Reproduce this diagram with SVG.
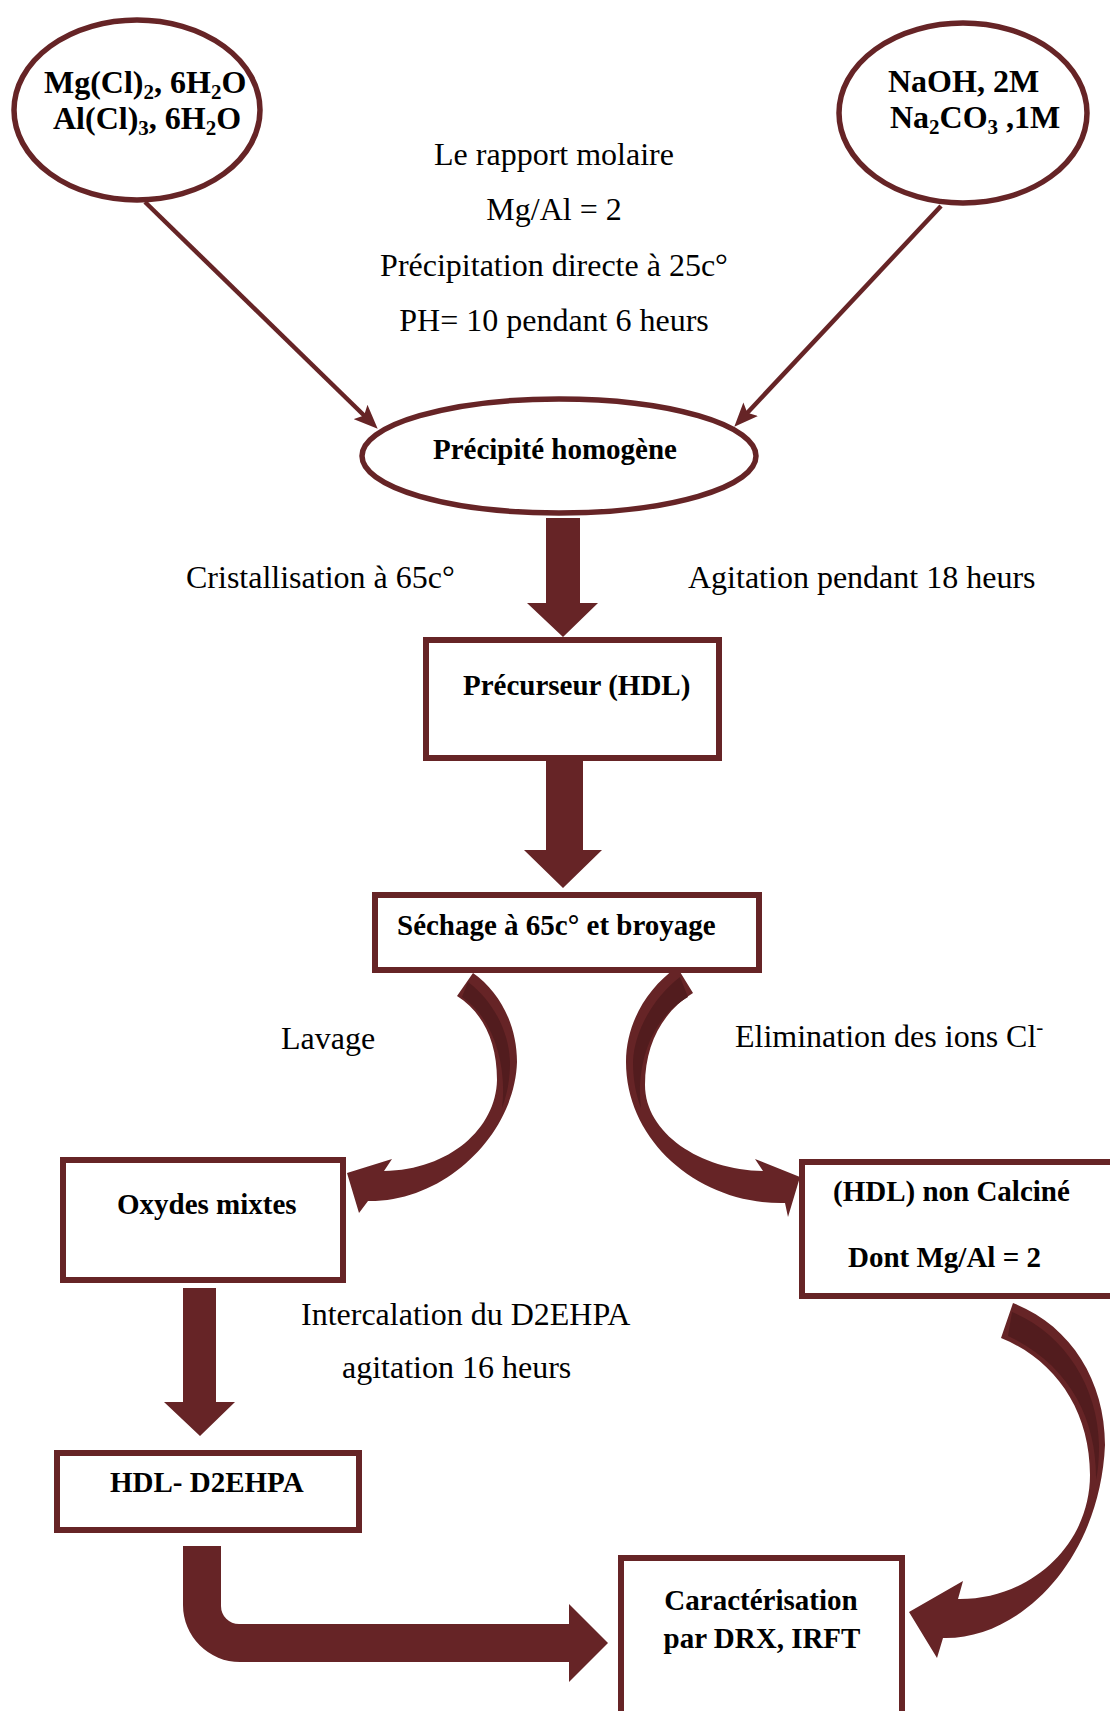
<svg xmlns="http://www.w3.org/2000/svg" width="1110" height="1711" viewBox="0 0 1110 1711">
<defs>
<style>
.box{fill:#fff;stroke:#662426;stroke-width:6}
.ell{fill:#fff;stroke:#662426;stroke-width:5.5}
.lbl{font-family:"Liberation Serif","Times New Roman",serif;font-weight:bold;font-size:29px;fill:#000}
.big{font-family:"Liberation Serif","Times New Roman",serif;font-weight:bold;font-size:32px;fill:#000}
.txt{font-family:"Liberation Serif","Times New Roman",serif;font-size:32px;fill:#000}
.sub{font-size:21px}
.arr{fill:#662426}
.dark{fill:#521c1e}
.thin{stroke:#662426;stroke-width:4.5;fill:none;marker-end:url(#head)}
</style>
<marker id="head" markerUnits="userSpaceOnUse" viewBox="0 0 24 20" refX="13" refY="10" markerWidth="24" markerHeight="20" orient="auto">
<path d="M0,0 L24,10 L0,20 L5,10 Z" fill="#662426"/>
</marker>
</defs>
<rect width="1110" height="1711" fill="#fff"/>

<g id="connectors">
<line class="thin" x1="145" y1="202" x2="369.8" y2="421"/>
<line class="thin" x1="941" y1="206" x2="741.8" y2="418.7"/>
<polygon class="arr" points="546,518 580,518 580,603 598,603 563,637 527,603 546,603"/>
<polygon class="arr" points="546,761 583,761 583,850 602,850 563,888 524,850 546,850"/>
<polygon class="arr" points="183,1288 216,1288 216,1402 235,1402 200,1436 164,1402 183,1402"/>
<path class="arr" d="M183 1546 L221 1546 L221 1606 A18 18 0 0 0 239 1624 L569 1624 L569 1604 L608 1643 L569 1682 L569 1662 L240 1662 A57 57 0 0 1 183 1605 Z"/>
<path class="arr" d="M473 973 C500 992 517 1025 517 1062 C515 1132 447 1202 368 1201 L359 1213 L347 1173 L392 1159 L384 1171 C450 1170 496 1128 497 1080 C497 1040 482 1012 457 996 Z"/>
<path class="dark" d="M468 982 C492 1000 509 1030 510 1062 C510 1080 507 1095 502 1108 C507 1070 496 1020 462 997 Z"/>
<path class="arr" d="M677 967 C645 990 626 1025 626 1062 C626 1142 700 1205 785 1203 L788 1217 L800 1177 L755 1159 L763 1171 C700 1170 645 1133 645 1085 C645 1045 662 1012 693 993 Z"/>
<path class="dark" d="M680 977 C655 996 634 1030 633 1062 C633 1080 636 1095 641 1108 C636 1070 648 1020 688 997 Z"/>
<path class="arr" d="M1013 1303 C1070 1325 1105 1380 1105 1445 C1100 1560 1020 1640 943 1638 L937 1658 L909 1612 L963 1581 L958 1599 C1030 1600 1090 1545 1090 1475 C1090 1410 1055 1360 1001 1338 Z"/>
<path class="dark" d="M1012 1312 C1063 1333 1098 1385 1099 1445 C1099 1460 1098 1470 1096 1480 C1097 1420 1070 1365 1008 1336 Z"/>
</g>

<g id="node-mgcl">
<ellipse class="ell" cx="137" cy="110" rx="123" ry="90"/>
<text class="big" x="44" y="93">Mg(Cl)<tspan class="sub" dy="6">2</tspan><tspan dy="-6">, 6H</tspan><tspan class="sub" dy="6">2</tspan><tspan dy="-6">O</tspan></text>
<text class="big" x="53" y="129">Al(Cl)<tspan class="sub" dy="6">3</tspan><tspan dy="-6">, 6H</tspan><tspan class="sub" dy="6">2</tspan><tspan dy="-6">O</tspan></text>
</g>

<g id="node-naoh">
<ellipse class="ell" cx="963" cy="113" rx="124" ry="90"/>
<text class="big" x="888" y="92">NaOH, 2M</text>
<text class="big" x="890" y="128">Na<tspan class="sub" dy="6">2</tspan><tspan dy="-6">CO</tspan><tspan class="sub" dy="6">3</tspan><tspan dy="-6"> ,1M</tspan></text>
</g>

<g id="conditions">
<text class="txt" x="554" y="165" text-anchor="middle">Le rapport molaire</text>
<text class="txt" x="554" y="220" text-anchor="middle">Mg/Al = 2</text>
<text class="txt" x="554" y="276" text-anchor="middle">Précipitation directe à 25c°</text>
<text class="txt" x="554" y="331" text-anchor="middle">PH= 10 pendant 6 heurs</text>
</g>

<g id="node-precipite">
<ellipse class="ell" cx="559" cy="456" rx="197" ry="57"/>
<text class="lbl" x="555" y="459" text-anchor="middle">Précipité homogène</text>
</g>

<text class="txt" x="186" y="588">Cristallisation à 65c°</text>
<text class="txt" x="688" y="588">Agitation pendant 18 heurs</text>

<g id="node-precurseur">
<rect class="box" x="426" y="640" width="293" height="118"/>
<text class="lbl" x="463" y="695">Précurseur (HDL)</text>
</g>

<g id="node-sechage">
<rect class="box" x="375" y="895" width="384" height="75"/>
<text class="lbl" x="397" y="935">Séchage à 65c° et broyage</text>
</g>

<text class="txt" x="281" y="1049">Lavage</text>
<text class="txt" x="735" y="1047">Elimination des ions Cl<tspan class="sub" dy="-13">-</tspan></text>

<g id="node-oxydes">
<rect class="box" x="63" y="1160" width="280" height="120"/>
<text class="lbl" x="117" y="1214">Oxydes mixtes</text>
</g>

<g id="node-hdl-non-calcine">
<rect class="box" x="802" y="1162" width="330" height="134"/>
<text class="lbl" x="833" y="1201">(HDL) non Calciné</text>
<text class="lbl" x="848" y="1267">Dont Mg/Al = 2</text>
</g>

<text class="txt" x="301" y="1325">Intercalation du D2EHPA</text>
<text class="txt" x="342" y="1378">agitation 16 heurs</text>

<g id="node-hdl-d2ehpa">
<rect class="box" x="57" y="1453" width="302" height="77"/>
<text class="lbl" x="110" y="1492">HDL- D2EHPA</text>
</g>

<g id="node-caracterisation">
<rect class="box" x="621" y="1558" width="281" height="200"/>
<text class="lbl" x="761" y="1610" text-anchor="middle">Caractérisation</text>
<text class="lbl" x="762" y="1648" text-anchor="middle">par DRX, IRFT</text>
</g>
</svg>
